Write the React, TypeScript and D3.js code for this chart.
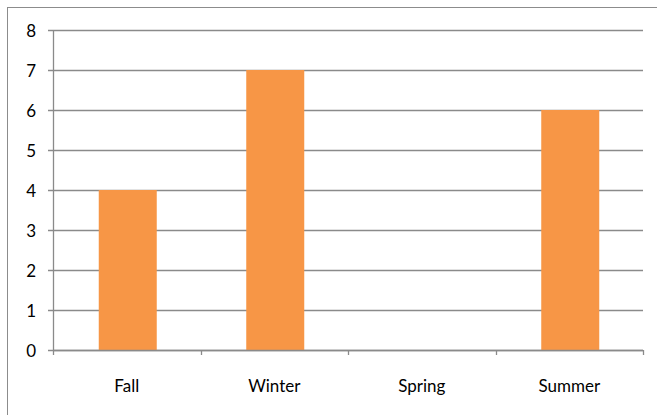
import React from "react";
import * as d3 from "d3";

const categories = ["Fall", "Winter", "Spring", "Summer"];
const values = [4, 7, 0, 6];
const yTicks = [0, 1, 2, 3, 4, 5, 6, 7, 8];

export default function App() {
  const W = 657, H = 415;
  const left = 53, right = 643, top = 30, bottom = 350;
  const x = d3.scaleBand<string>().domain(categories).range([left, right]).paddingInner(0.6).paddingOuter(0.3);
  const xb = d3.scaleBand<string>().domain(categories).range([left, right]);
  const y = d3.scaleLinear().domain([0, 8]).range([bottom, top]);
  const font = "Lato, 'Open Sans', sans-serif";
  return (
    <svg width={W} height={H} style={{ position: "absolute", left: 0, top: 0 }}>
      <rect x={0} y={0} width={W} height={H} fill="#fff" />
      <rect x={7.5} y={7.5} width={W + 10} height={H + 10} fill="none" stroke="#8c8c8c" strokeWidth={1} />
      {yTicks.map(t => (
        <g key={t}>
          <line x1={left - 5} x2={right} y1={Math.round(y(t)) + 0.5} y2={Math.round(y(t)) + 0.5} stroke="#8a8a8a" strokeWidth={1.3} />
          <text x={36} y={y(t) + 1} dy="0.36em" textAnchor="end" fontFamily={font} fontSize={17} fill="#000">{t}</text>
        </g>
      ))}
      {categories.map((c, i) => (
        <rect key={c} x={x(c)! + 1.5} y={y(values[i])} width={x.bandwidth() - 1} height={bottom - y(values[i])} fill="#F79646" />
      ))}
      <line x1={left + 0.5} x2={left + 0.5} y1={top} y2={bottom} stroke="#8a8a8a" strokeWidth={1.3} />
      <line x1={left} x2={right} y1={bottom + 0.5} y2={bottom + 0.5} stroke="#8a8a8a" strokeWidth={1.3} />
      {[...categories.map(c => xb(c)!), right].map((v, i) => (
        <line key={i} x1={Math.round(v) + 0.5} x2={Math.round(v) + 0.5} y1={bottom} y2={bottom + 5} stroke="#8a8a8a" strokeWidth={1.3} />
      ))}
      {categories.map(c => (
        <text key={c} x={xb(c)! + xb.bandwidth() / 2} y={392} textAnchor="middle" fontFamily={font} fontSize={17} fill="#000">{c}</text>
      ))}
    </svg>
  );
}
